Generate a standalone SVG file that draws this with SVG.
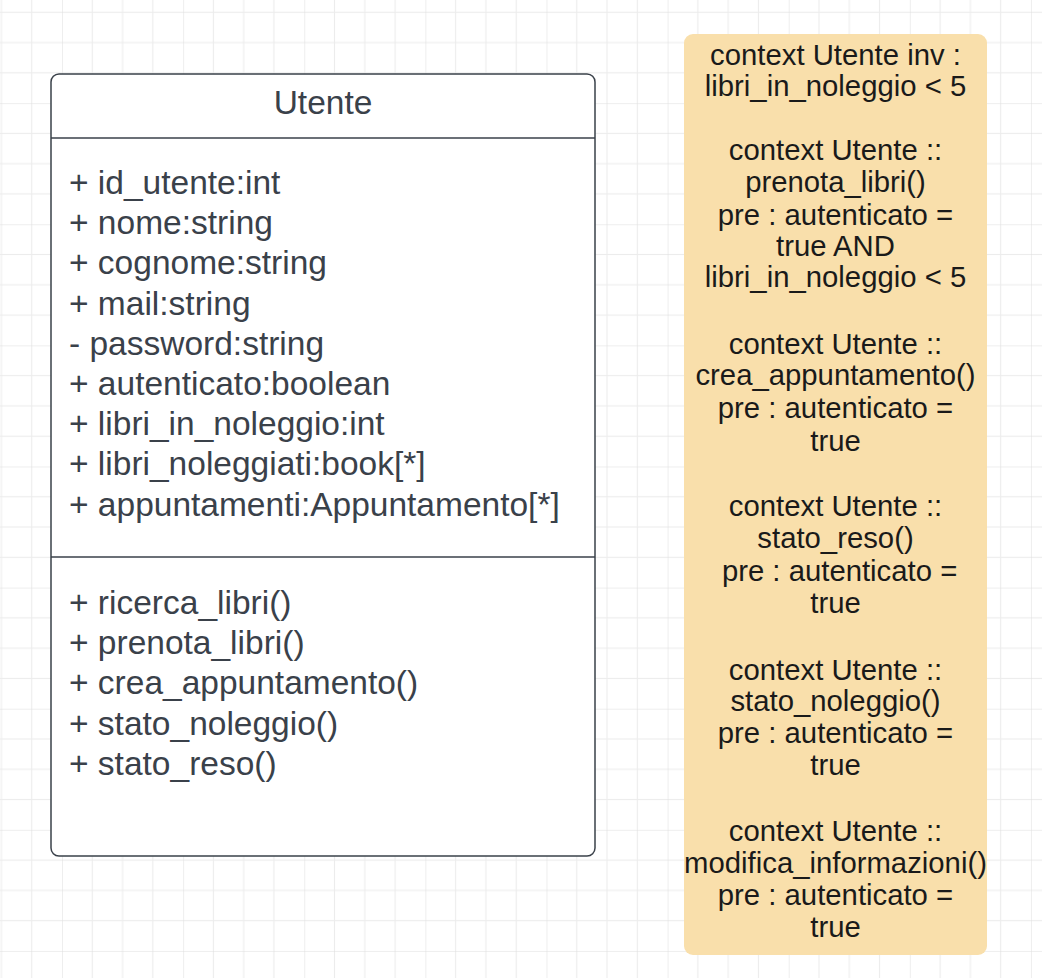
<svg xmlns="http://www.w3.org/2000/svg" width="1042" height="978" viewBox="0 0 1042 978">
  <style>
    .cls-text { font-family: "Liberation Sans", Arial, sans-serif; font-size: 33.5px; fill: #3a414a; }
    .note-text { font-family: "Liberation Sans", Arial, sans-serif; font-size: 29.3px; fill: #1a1a1a; text-anchor: middle; white-space: pre; }
    .cls-frame { fill: #ffffff; stroke: #3a414a; stroke-width: 1.5; }
    .divider { stroke: #3a414a; stroke-width: 1.5; }
  </style>
  <defs>
    <pattern id="grid" patternUnits="userSpaceOnUse" x="62" y="-18" width="121.12" height="121.12">
      <rect x="0" y="0" width="121.12" height="121.12" fill="#ffffff"/>
      <g fill="#ececec">
        <rect x="29.78" y="0" width="1" height="121.12"/>
        <rect x="60.06" y="0" width="1" height="121.12"/>
        <rect x="90.34" y="0" width="1" height="121.12"/>
        <rect x="0" y="29.78" width="121.12" height="1"/>
        <rect x="0" y="60.06" width="121.12" height="1"/>
        <rect x="0" y="90.34" width="121.12" height="1"/>
      </g>
      <g fill="#dedede">
        <rect x="-0.5" y="0" width="1" height="121.12"/>
        <rect x="0" y="-0.5" width="121.12" height="1"/>
      </g>
    </pattern>
  </defs>
  <rect id="background" x="0" y="0" width="1042" height="978" fill="url(#grid)"/>

  <g id="class-utente">
    <rect class="cls-frame" x="51" y="74" width="544" height="782" rx="8" ry="8"/>
    <line class="divider" x1="51" y1="138" x2="595" y2="138"/>
    <line class="divider" x1="51" y1="557" x2="595" y2="557"/>
    <text class="cls-text" x="323" y="113.5" text-anchor="middle">Utente</text>
    <text class="cls-text" x="69" y="194">+ id_utente:int</text>
    <text class="cls-text" x="69" y="234.2">+ nome:string</text>
    <text class="cls-text" x="69" y="274.4">+ cognome:string</text>
    <text class="cls-text" x="69" y="314.6">+ mail:string</text>
    <text class="cls-text" x="69" y="354.8">- password:string</text>
    <text class="cls-text" x="69" y="395">+ autenticato:boolean</text>
    <text class="cls-text" x="69" y="435.2">+ libri_in_noleggio:int</text>
    <text class="cls-text" x="69" y="475.4">+ libri_noleggiati:book[*]</text>
    <text class="cls-text" x="69" y="515.6">+ appuntamenti:Appuntamento[*]</text>
    <text class="cls-text" x="69" y="614">+ ricerca_libri()</text>
    <text class="cls-text" x="69" y="654.2">+ prenota_libri()</text>
    <text class="cls-text" x="69" y="694.4">+ crea_appuntamento()</text>
    <text class="cls-text" x="69" y="734.6">+ stato_noleggio()</text>
    <text class="cls-text" x="69" y="774.8">+ stato_reso()</text>
  </g>

  <g id="note-ocl">
    <rect x="684" y="34" width="303" height="921" rx="9" ry="9" fill="#f9dfab"/>
    <text class="note-text" x="835.5" y="65">context Utente inv :</text>
    <text class="note-text" x="835.5" y="96.3">libri_in_noleggio &lt; 5</text>
    <text class="note-text" x="835.5" y="159.9">context Utente ::</text>
    <text class="note-text" x="835.5" y="192.2">prenota_libri()</text>
    <text class="note-text" x="835.5" y="224.5">pre : autenticato =</text>
    <text class="note-text" x="835.5" y="255.8">true AND</text>
    <text class="note-text" x="835.5" y="286.6">libri_in_noleggio &lt; 5</text>
    <text class="note-text" x="835.5" y="353.6">context Utente ::</text>
    <text class="note-text" x="835.5" y="385.4">crea_appuntamento()</text>
    <text class="note-text" x="835.5" y="418.2">pre : autenticato =</text>
    <text class="note-text" x="835.5" y="450.5">true</text>
    <text class="note-text" x="835.5" y="516.1">context Utente ::</text>
    <text class="note-text" x="835.5" y="548.4">stato_reso()</text>
    <text class="note-text" x="835.5" y="580.7"> pre : autenticato =</text>
    <text class="note-text" x="835.5" y="613">true</text>
    <text class="note-text" x="835.5" y="679.5">context Utente ::</text>
    <text class="note-text" x="835.5" y="710.8">stato_noleggio()</text>
    <text class="note-text" x="835.5" y="743.1">pre : autenticato =</text>
    <text class="note-text" x="835.5" y="775.4">true</text>
    <text class="note-text" x="835.5" y="841">context Utente ::</text>
    <text class="note-text" x="835.5" y="873.3">modifica_informazioni()</text>
    <text class="note-text" x="835.5" y="904.6">pre : autenticato =</text>
    <text class="note-text" x="835.5" y="936.9">true</text>
  </g>

  <g id="connectors"/>
</svg>
